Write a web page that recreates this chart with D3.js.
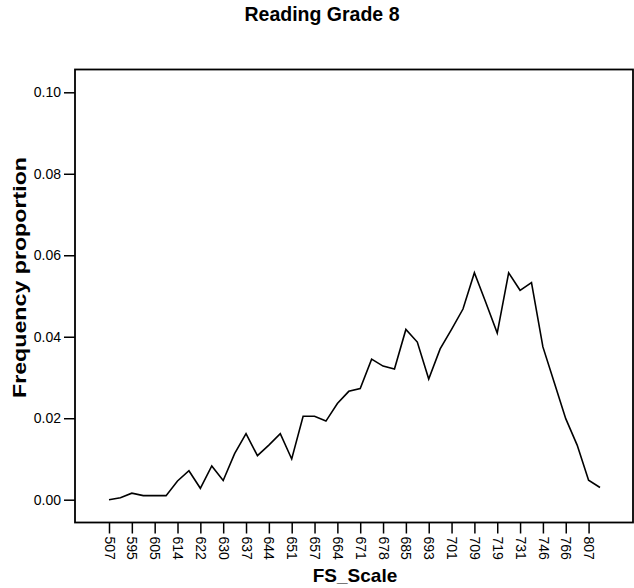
<!DOCTYPE html>
<html>
<head>
<meta charset="utf-8">
<script src="https://cdn.jsdelivr.net/npm/d3@7"></script>
<style>
  html, body { margin: 0; padding: 0; background: #fff; }
  svg { display: block; font-family: "Liberation Sans", Arial, Helvetica, sans-serif; }
</style>
</head>
<body>
<svg id="chart" width="634" height="588"></svg>
<script>
// ---- data ----
const chartTitle = "Reading Grade 8";
const xTitle = "FS_Scale";
const yTitle = "Frequency proportion";
const categories = ["507","580","595","600","605","610","614","618","622","626","630","634","637","641","644","648","651","654","657","661","664","668","671","675","678","682","685","689","693","697","701","705","709","714","719","725","731","738","746","755","766","785","807","830"];
const proportions = [0.0000,0.0005,0.0016,0.0010,0.0010,0.0010,0.0046,0.0071,0.0028,0.0083,0.0047,0.0113,0.0162,0.0108,0.0134,0.0162,0.0100,0.0205,0.0205,0.0193,0.0236,0.0266,0.0273,0.0345,0.0328,0.0321,0.0418,0.0387,0.0296,0.0370,0.0418,0.0468,0.0557,0.0484,0.0409,0.0557,0.0514,0.0533,0.0375,0.0287,0.0199,0.0134,0.0048,0.0030];
const xTickLabels = ["507","595","605","614","622","630","637","644","651","657","664","671","678","685","693","701","709","719","731","746","766","807"];
const yTickValues = [0.00, 0.02, 0.04, 0.06, 0.08, 0.10];

// ---- layout ----
const frame = { left: 75, right: 633, top: 69.5, bottom: 522.5 };
const svg = d3.select("#chart");

const x = d3.scalePoint().domain(categories).range([109, 600]);
const y = d3.scaleLinear().domain([0, 0.10]).range([499.7, 92.3]);

// frame
svg.append("rect")
  .attr("x", frame.left).attr("y", frame.top)
  .attr("width", frame.right - frame.left).attr("height", frame.bottom - frame.top)
  .attr("fill", "none").attr("stroke", "#000").attr("stroke-width", 1.8);

// y axis
const yAxis = d3.axisLeft(y).tickValues(yTickValues).tickFormat(d3.format(".2f")).tickSize(11).tickPadding(3);
const gy = svg.append("g").attr("transform", `translate(${frame.left},0)`).call(yAxis);
gy.select(".domain").remove();
gy.selectAll(".tick line").attr("stroke", "#000").attr("stroke-width", 1.5);
gy.selectAll(".tick text").attr("font-size", "14px").attr("fill", "#000")
  .attr("font-family", "Liberation Sans, Arial, sans-serif");

// x axis
const tickCats = categories.filter(c => xTickLabels.includes(c));
const xAxis = d3.axisBottom(x).tickValues(tickCats).tickSize(11).tickPadding(0);
const gx = svg.append("g").attr("transform", `translate(0,${frame.bottom})`).call(xAxis);
gx.select(".domain").remove();
gx.selectAll(".tick line").attr("stroke", "#000").attr("stroke-width", 1.5);
gx.selectAll(".tick text")
  .attr("font-size", "14px").attr("fill", "#000")
  .attr("font-family", "Liberation Sans, Arial, sans-serif")
  .attr("text-anchor", "start")
  .attr("transform", "rotate(90)")
  .attr("x", 14).attr("y", 0).attr("dy", "0.35em");

// line
const line = d3.line()
  .x((d, i) => x(categories[i]))
  .y(d => y(d));
svg.append("path")
  .datum(proportions)
  .attr("d", line)
  .attr("fill", "none").attr("stroke", "#000").attr("stroke-width", 1.6)
  .attr("stroke-linejoin", "miter");

// titles
svg.append("text").attr("x", 322).attr("y", 20.5).attr("text-anchor", "middle")
  .attr("font-size", "19.5px").attr("font-weight", "bold").text(chartTitle);
svg.append("text").attr("x", 355).attr("y", 581.5).attr("text-anchor", "middle")
  .attr("font-size", "19px").attr("font-weight", "bold").text(xTitle);
svg.append("text")
  .attr("transform", `translate(26,277.5) rotate(-90)`)
  .attr("text-anchor", "middle")
  .attr("font-size", "19px").attr("font-weight", "bold")
  .attr("textLength", 241).attr("lengthAdjust", "spacingAndGlyphs")
  .text(yTitle);
</script>
</body>
</html>
